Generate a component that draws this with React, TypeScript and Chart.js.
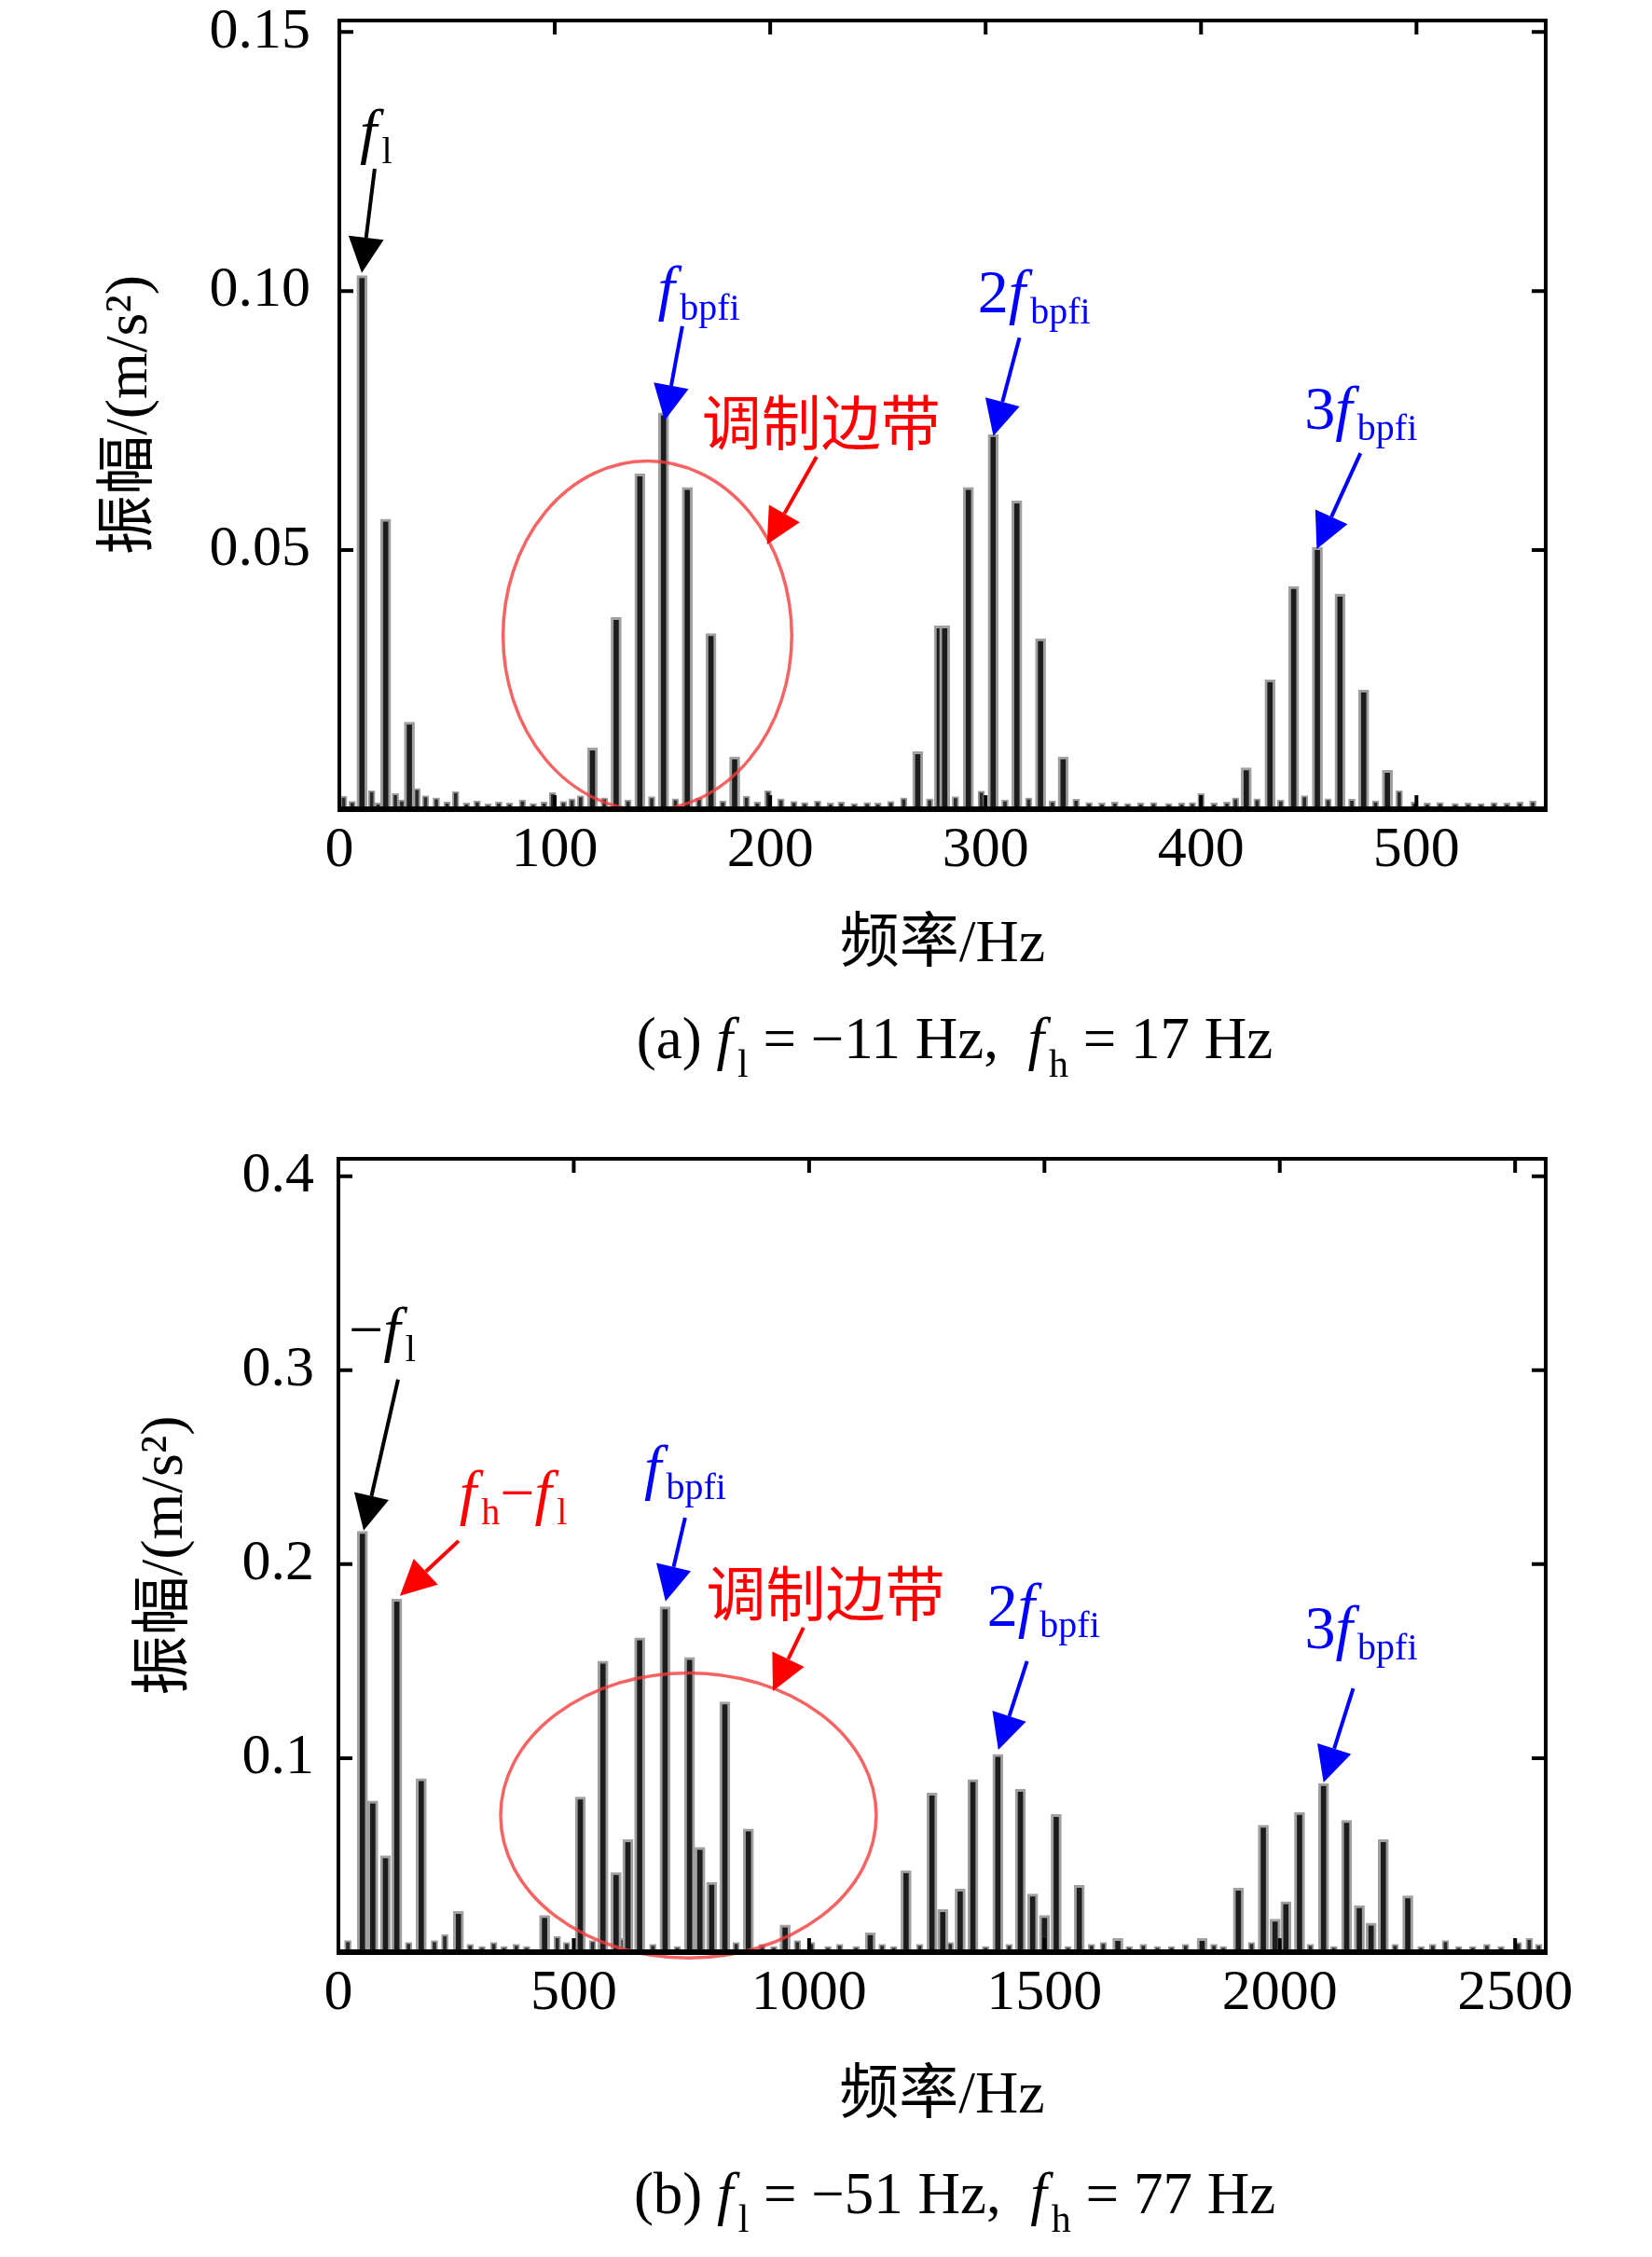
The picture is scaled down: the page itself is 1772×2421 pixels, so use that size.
import React, { useEffect, useRef } from "react";
import { Chart, registerables } from "chart.js";

Chart.register(...registerables);

const SERIF = "'Liberation Serif', 'Times New Roman', serif";
const MIXED = "'Liberation Serif', 'Noto Sans CJK SC', serif";
const CJK = "'Noto Sans CJK SC', sans-serif";
const BLUE = "#0000ff";
const RED = "#ff0000";

// ---------- (a) f_l = -11 Hz, f_h = 17 Hz ----------
const A_FREQ = [10.5, 21.5, 32.5, 117.5, 128.5, 139.5, 150.5, 161.5, 172.5, 183.5, 268.5, 278.5, 281, 292, 303.5, 314.5, 325.5, 336, 421, 432, 443, 454, 464.5, 475.5, 486.5];
const A_AMP = [0.103, 0.056, 0.0168, 0.0118, 0.037, 0.0647, 0.0765, 0.0621, 0.0339, 0.0101, 0.0111, 0.0354, 0.0354, 0.0621, 0.0723, 0.0595, 0.0329, 0.0101, 0.008, 0.025, 0.043, 0.0505, 0.0415, 0.023, 0.0075];
const A_NOISE_FREQ = [2, 6, 15, 18, 26, 29, 36, 40, 45, 50, 54, 59, 64, 69, 74, 79, 85, 90, 95, 99, 104, 108, 112, 123, 134, 145, 156, 167, 178, 189, 194, 199, 205, 211, 216, 222, 228, 233, 239, 245, 250, 256, 262, 274, 286, 298, 309, 320, 331, 342, 348, 354, 360, 366, 372, 378, 385, 391, 396, 400, 406, 412, 416, 426, 437, 448, 459, 470, 481, 492, 499, 505, 511, 518, 524, 530, 536, 542, 548, 554];
const A_NOISE_AMP = [
  0.0025, 0.0015, 0.0036, 0.0012, 0.003, 0.0018, 0.004, 0.0026, 0.0022, 0.0014,
  0.0034, 0.0012, 0.0016, 0.001, 0.0014, 0.0012, 0.0018, 0.0011, 0.0014, 0.0032,
  0.0015, 0.002, 0.0026, 0.0022, 0.0018, 0.0024, 0.002, 0.0021, 0.0016, 0.0025,
  0.0014, 0.0036, 0.002, 0.0015, 0.0013, 0.0016, 0.0012, 0.0014, 0.0011, 0.0013,
  0.0012, 0.0015, 0.0022, 0.002, 0.0024, 0.0035, 0.0018, 0.0022, 0.0016, 0.0019,
  0.0013, 0.0012, 0.0014, 0.0011, 0.0012, 0.0013, 0.0011, 0.0012, 0.0013, 0.003,
  0.0012, 0.0014, 0.0022, 0.002, 0.0018, 0.0026, 0.002, 0.0019, 0.0016, 0.0036,
  0.0014, 0.0012, 0.0013, 0.0011, 0.0012, 0.0011, 0.0013, 0.0012, 0.0014, 0.0016,
];
const A_X_MAX = 560;
const A_X_TICKS = [0, 100, 200, 300, 400, 500];
const A_Y_MAX = 0.1522;
const A_Y_TICKS = [0, 0.05, 0.1, 0.15];

// ---------- (b) f_l = -51 Hz, f_h = 77 Hz ----------
const B_FREQ = [51, 73, 100, 124, 176, 255, 438, 514, 562, 590, 615, 640, 694, 746, 768, 793, 821, 871, 949, 1130, 1206, 1261, 1284, 1321, 1348, 1401, 1449, 1475, 1500, 1525, 1574, 1656, 1835, 1912, 1965, 1990, 2013, 2042, 2093, 2142, 2169, 2194, 2220, 2272];
const B_AMP = [0.217, 0.078, 0.0497, 0.182, 0.0895, 0.021, 0.019, 0.08, 0.15, 0.041, 0.058, 0.162, 0.178, 0.152, 0.054, 0.036, 0.129, 0.0635, 0.014, 0.01, 0.042, 0.082, 0.022, 0.0325, 0.089, 0.102, 0.084, 0.03, 0.019, 0.071, 0.0345, 0.007, 0.007, 0.033, 0.0655, 0.017, 0.026, 0.072, 0.087, 0.068, 0.024, 0.015, 0.058, 0.029];
const B_NOISE_FREQ = [20, 149, 204, 226, 280, 305, 330, 352, 378, 400, 465, 485, 540, 600, 668, 720, 845, 900, 925, 975, 1005, 1040, 1065, 1100, 1155, 1180, 1235, 1300, 1375, 1425, 1550, 1600, 1625, 1680, 1710, 1740, 1770, 1800, 1860, 1880, 1940, 2004, 2065, 2115, 2245, 2300, 2325, 2352, 2380, 2410, 2440, 2470, 2507, 2530, 2550];
const B_NOISE_AMP = [
  0.006, 0.005, 0.006, 0.009, 0.004, 0.003, 0.005, 0.003, 0.004, 0.003,
  0.008, 0.005, 0.006, 0.007, 0.004, 0.003, 0.005, 0.004, 0.003, 0.006,
  0.005, 0.003, 0.004, 0.003, 0.004, 0.003, 0.004, 0.005, 0.003, 0.004,
  0.003, 0.004, 0.005, 0.003, 0.004, 0.003, 0.003, 0.004, 0.004, 0.003,
  0.005, 0.005, 0.004, 0.003, 0.004, 0.003, 0.004, 0.006, 0.003, 0.003,
  0.004, 0.003, 0.005, 0.007, 0.004,
];
const B_X_MAX = 2565;
const B_X_TICKS = [0, 500, 1000, 1500, 2000, 2500];
const B_Y_MAX = 0.409;
const B_Y_TICKS = [0, 0.1, 0.2, 0.3, 0.4];

// ---------- annotations (data coordinates) ----------
type Part = { t: string; it?: boolean; sub?: boolean };
type Label = { x: number; y: number; parts?: Part[]; cjk?: string; color: string };
type Arrow = { x1: number; y1: number; x2: number; y2: number; color: string };
type Ell = { cx: number; cy: number; rx: number; ry: number };

const F_BPFI: Part[] = [{ t: "f", it: true }, { t: "bpfi", sub: true }];

const A_LABELS: Label[] = [
  { x: 9.5, y: 0.1268, parts: [{ t: "f", it: true }, { t: "l", sub: true }], color: "#000" },
  { x: 147.8, y: 0.0966, parts: F_BPFI, color: BLUE },
  { x: 296.3, y: 0.0959, parts: [{ t: "2" }, ...F_BPFI], color: BLUE },
  { x: 448, y: 0.0734, parts: [{ t: "3" }, ...F_BPFI], color: BLUE },
  { x: 223.6, y: 0.0748, cjk: "调制边带", color: RED },
];
const A_ARROWS: Arrow[] = [
  { x1: 16.4, y1: 0.1236, x2: 10.4, y2: 0.1035, color: "#000" },
  { x1: 159.2, y1: 0.0932, x2: 151, y2: 0.075, color: BLUE },
  { x1: 315.7, y1: 0.091, x2: 303.6, y2: 0.072, color: BLUE },
  { x1: 474, y1: 0.0687, x2: 453.7, y2: 0.0502, color: BLUE },
  { x1: 221.5, y1: 0.068, x2: 198.5, y2: 0.0511, color: RED },
];
const A_ELLIPSE: Ell = { cx: 143, cy: 0.0335, rx: 67, ry: 0.0337 };

const B_LABELS: Label[] = [
  { x: 21.8, y: 0.3106, parts: [{ t: "\u2212" }, { t: "f", it: true }, { t: "l", sub: true }], color: "#000" },
  { x: 257, y: 0.2264, parts: [{ t: "f", it: true }, { t: "h", sub: true }, { t: "\u2212" }, { t: "f", it: true }, { t: "l", sub: true }], color: RED },
  { x: 649.5, y: 0.2394, parts: F_BPFI, color: BLUE },
  { x: 1378, y: 0.1683, parts: [{ t: "2" }, ...F_BPFI], color: BLUE },
  { x: 2053, y: 0.1567, parts: [{ t: "3" }, ...F_BPFI], color: BLUE },
  { x: 1035, y: 0.185, cjk: "调制边带", color: RED },
];
const B_ARROWS: Arrow[] = [
  { x1: 126.7, y1: 0.2952, x2: 53.5, y2: 0.2173, color: "#000" },
  { x1: 255.4, y1: 0.212, x2: 130.7, y2: 0.1837, color: RED },
  { x1: 736.6, y1: 0.224, x2: 695, y2: 0.1808, color: BLUE },
  { x1: 988, y1: 0.1673, x2: 923, y2: 0.1346, color: RED },
  { x1: 1463, y1: 0.15, x2: 1402, y2: 0.1043, color: BLUE },
  { x1: 2156, y1: 0.136, x2: 2093, y2: 0.0875, color: BLUE },
];
const B_ELLIPSE: Ell = { cx: 743.6, cy: 0.0705, rx: 399, ry: 0.0735 };

const A_CAPTION: Part[] = [
  { t: "(a) " }, { t: "f", it: true }, { t: "l", sub: true }, { t: " = \u221211 Hz,  " },
  { t: "f", it: true }, { t: "h", sub: true }, { t: " = 17 Hz" },
];
const B_CAPTION: Part[] = [
  { t: "(b) " }, { t: "f", it: true }, { t: "l", sub: true }, { t: " = \u221251 Hz,  " },
  { t: "f", it: true }, { t: "h", sub: true }, { t: " = 77 Hz" },
];

// ---------- drawing helpers ----------
function drawRich(ctx: any, parts: Part[], x: number, y: number, size: number, subSize: number, subDy: number, color: string, align: "left" | "center") {
  const fonts = parts.map((p) => `${p.it ? "italic " : ""}${p.sub ? subSize : size}px ${SERIF}`);
  const widths = parts.map((p, i) => {
    ctx.font = fonts[i];
    return ctx.measureText(p.t).width + (p.it ? size * 0.08 : 0);
  });
  const total = widths.reduce((a, b) => a + b, 0);
  let cx = align === "center" ? x - total / 2 : x;
  ctx.fillStyle = color;
  ctx.textAlign = "left";
  ctx.textBaseline = "alphabetic";
  parts.forEach((p, i) => {
    ctx.font = fonts[i];
    ctx.fillText(p.t, cx, y + (p.sub ? subDy : 0));
    cx += widths[i];
  });
}

function drawArrow(ctx: any, x1: number, y1: number, x2: number, y2: number, color: string) {
  const head = 38, half = 19;
  const ang = Math.atan2(y2 - y1, x2 - x1);
  const bx = x2 - head * Math.cos(ang);
  const by = y2 - head * Math.sin(ang);
  ctx.strokeStyle = color;
  ctx.lineWidth = 4;
  ctx.beginPath();
  ctx.moveTo(x1, y1);
  ctx.lineTo(bx, by);
  ctx.stroke();
  ctx.fillStyle = color;
  ctx.beginPath();
  ctx.moveTo(x2, y2);
  ctx.lineTo(bx + half * Math.sin(ang), by - half * Math.cos(ang));
  ctx.lineTo(bx - half * Math.sin(ang), by + half * Math.cos(ang));
  ctx.closePath();
  ctx.fill();
}

type Spec = {
  top: number; w: number; h: number;
  pad: { left: number; right: number; top: number; bottom: number };
  yWidth: number; xHeight: number;
  freq: number[]; amp: number[]; nFreq: number[]; nAmp: number[];
  xMax: number; xTicks: number[]; yMax: number; yTicks: number[]; yDec: number;
  yTickPad: number; yTitlePad: number;
  labels: Label[]; arrows: Arrow[]; ellipse: Ell;
  caption: Part[]; capX: number; capY: number;
};

function makeOverlay(spec: Spec) {
  return {
    id: "overlay",
    afterDatasetsDraw(chart: any) {
      const { ctx, chartArea: a, scales } = chart;
      const xs = scales.x, ys = scales.y;
      const px = (v: number) => xs.getPixelForValue(v);
      const py = (v: number) => ys.getPixelForValue(v);
      ctx.save();
      // ellipse marking sidebands
      const e = spec.ellipse;
      ctx.strokeStyle = "rgba(245,60,60,0.8)";
      ctx.lineWidth = 3.5;
      ctx.beginPath();
      ctx.ellipse(px(e.cx), py(e.cy), Math.abs(px(e.cx + e.rx) - px(e.cx)), Math.abs(py(e.cy + e.ry) - py(e.cy)), 0, 0, Math.PI * 2);
      ctx.stroke();
      // frame
      ctx.strokeStyle = "#000";
      ctx.lineWidth = 4;
      ctx.strokeRect(a.left, a.top, a.right - a.left, a.bottom - a.top);
      ctx.lineWidth = 6;
      ctx.beginPath();
      ctx.moveTo(a.left - 2, a.bottom);
      ctx.lineTo(a.right + 2, a.bottom);
      ctx.stroke();
      // inward ticks on all sides
      ctx.lineWidth = 4;
      const tl = 15;
      ys.ticks.forEach((t: any) => {
        if (t.value <= 0 || t.value > ys.max) return;
        const y = py(t.value);
        ctx.beginPath();
        ctx.moveTo(a.left, y); ctx.lineTo(a.left + tl, y);
        ctx.moveTo(a.right, y); ctx.lineTo(a.right - tl, y);
        ctx.stroke();
      });
      xs.ticks.forEach((t: any) => {
        if (t.value <= 0 || t.value >= xs.max) return;
        const x = px(t.value);
        ctx.beginPath();
        ctx.moveTo(x, a.top); ctx.lineTo(x, a.top + tl);
        ctx.moveTo(x, a.bottom); ctx.lineTo(x, a.bottom - tl);
        ctx.stroke();
      });
      // arrows
      spec.arrows.forEach((ar) => drawArrow(ctx, px(ar.x1), py(ar.y1), px(ar.x2), py(ar.y2), ar.color));
      // labels
      spec.labels.forEach((lb) => {
        if (lb.cjk) {
          ctx.font = `64px ${CJK}`;
          ctx.fillStyle = lb.color;
          ctx.textAlign = "center";
          ctx.textBaseline = "middle";
          ctx.fillText(lb.cjk, px(lb.x), py(lb.y));
        } else if (lb.parts) {
          drawRich(ctx, lb.parts, px(lb.x), py(lb.y), 66, 40, 12, lb.color, "left");
        }
      });
      ctx.restore();
    },
    afterDraw(chart: any) {
      const { ctx } = chart;
      ctx.save();
      drawRich(ctx, spec.caption, spec.capX, spec.capY, 63, 42, 20, "#000", "center");
      ctx.restore();
    },
  };
}

function makeConfig(spec: Spec): any {
  const main = spec.freq.map((f, i) => ({ x: f, y: spec.amp[i] }));
  const noise = spec.nFreq.map((f, i) => ({ x: f, y: spec.nAmp[i] }));
  return {
    type: "bar",
    data: {
      datasets: [
        {
          data: main,
          backgroundColor: "#1c1c1c",
          borderColor: "#a0a0a0",
          borderWidth: { left: 3, right: 3, top: 3, bottom: 0 },
          borderSkipped: false,
          barThickness: 11,
          stack: "s",
          order: 0,
        },
        {
          data: noise,
          backgroundColor: "#2a2a2a",
          borderColor: "#9a9a9a",
          borderWidth: { left: 2, right: 2, top: 2, bottom: 0 },
          borderSkipped: false,
          barThickness: 7,
          stack: "s",
          order: 1,
        },
      ],
    },
    options: {
      responsive: false,
      maintainAspectRatio: false,
      animation: false,
      devicePixelRatio: 1,
      events: [],
      layout: { padding: spec.pad },
      plugins: { legend: { display: false }, tooltip: { enabled: false } },
      scales: {
        x: {
          type: "linear",
          position: "bottom",
          min: 0,
          max: spec.xMax,
          offset: false,
          grid: { display: false, drawTicks: false },
          border: { display: false },
          afterBuildTicks: (s: any) => {
            s.ticks = spec.xTicks.map((v) => ({ value: v }));
          },
          ticks: {
            autoSkip: false,
            maxRotation: 0,
            padding: 8,
            color: "#000",
            font: { family: SERIF, size: 62 },
            callback: (v: any) => String(v),
          },
          title: {
            display: true,
            text: "频率/Hz",
            color: "#000",
            font: { family: MIXED, size: 64 },
            padding: { top: 0, bottom: 0 },
          },
          afterFit: (s: any) => {
            s.height = spec.xHeight;
            s.paddingLeft = 0; s.paddingRight = 0; s.paddingTop = 0; s.paddingBottom = 0;
          },
        },
        y: {
          type: "linear",
          position: "left",
          min: 0,
          max: spec.yMax,
          stacked: false,
          grid: { display: false, drawTicks: false },
          border: { display: false },
          afterBuildTicks: (s: any) => {
            s.ticks = spec.yTicks.map((v) => ({ value: v }));
          },
          ticks: {
            autoSkip: false,
            padding: spec.yTickPad,
            color: "#000",
            font: { family: SERIF, size: 62 },
            callback: (v: any) => (Number(v) <= 0 ? "" : Number(v).toFixed(spec.yDec)),
          },
          title: {
            display: true,
            text: "振幅/(m/s\u00B2)",
            color: "#000",
            font: { family: MIXED, size: 64 },
            padding: { top: spec.yTitlePad, bottom: 0 },
          },
          afterFit: (s: any) => {
            s.width = spec.yWidth;
            s.paddingLeft = 0; s.paddingRight = 0; s.paddingTop = 0; s.paddingBottom = 0;
          },
        },
      },
    },
    plugins: [makeOverlay(spec)],
  };
}

const SPEC_A: Spec = {
  top: 0, w: 1772, h: 1200,
  pad: { left: 0, right: 114, top: 22, bottom: 147.6 },
  yWidth: 364, xHeight: 184.4,
  freq: A_FREQ, amp: A_AMP, nFreq: A_NOISE_FREQ, nAmp: A_NOISE_AMP,
  xMax: A_X_MAX, xTicks: A_X_TICKS, yMax: A_Y_MAX, yTicks: A_Y_TICKS, yDec: 2,
  yTickPad: 31, yTitlePad: 101.6,
  labels: A_LABELS, arrows: A_ARROWS, ellipse: A_ELLIPSE,
  caption: A_CAPTION, capX: 1024, capY: 1135,
};

const SPEC_B: Spec = {
  top: 1180, w: 1772, h: 1241,
  pad: { left: 0, right: 114, top: 63, bottom: 133.6 },
  yWidth: 363, xHeight: 193.4,
  freq: B_FREQ, amp: B_AMP, nFreq: B_NOISE_FREQ, nAmp: B_NOISE_AMP,
  xMax: B_X_MAX, xTicks: B_X_TICKS, yMax: B_Y_MAX, yTicks: B_Y_TICKS, yDec: 1,
  yTickPad: 26, yTitlePad: 139.6,
  labels: B_LABELS, arrows: B_ARROWS, ellipse: B_ELLIPSE,
  caption: B_CAPTION, capX: 1024, capY: 1194,
};

function SpectrumChart({ spec }: { spec: Spec }) {
  const ref = useRef<HTMLCanvasElement>(null);
  useEffect(() => {
    if (!ref.current) return;
    const chart = new Chart(ref.current, makeConfig(spec));
    return () => chart.destroy();
  }, [spec]);
  return (
    <canvas
      ref={ref}
      width={spec.w}
      height={spec.h}
      style={{ position: "absolute", left: 0, top: spec.top, width: spec.w, height: spec.h, display: "block" }}
    />
  );
}

export default function App() {
  return (
    <div style={{ position: "absolute", left: 0, top: 0, width: 1772, height: 2421, background: "#fff", overflow: "hidden" }}>
      <SpectrumChart spec={SPEC_A} />
      <SpectrumChart spec={SPEC_B} />
    </div>
  );
}
